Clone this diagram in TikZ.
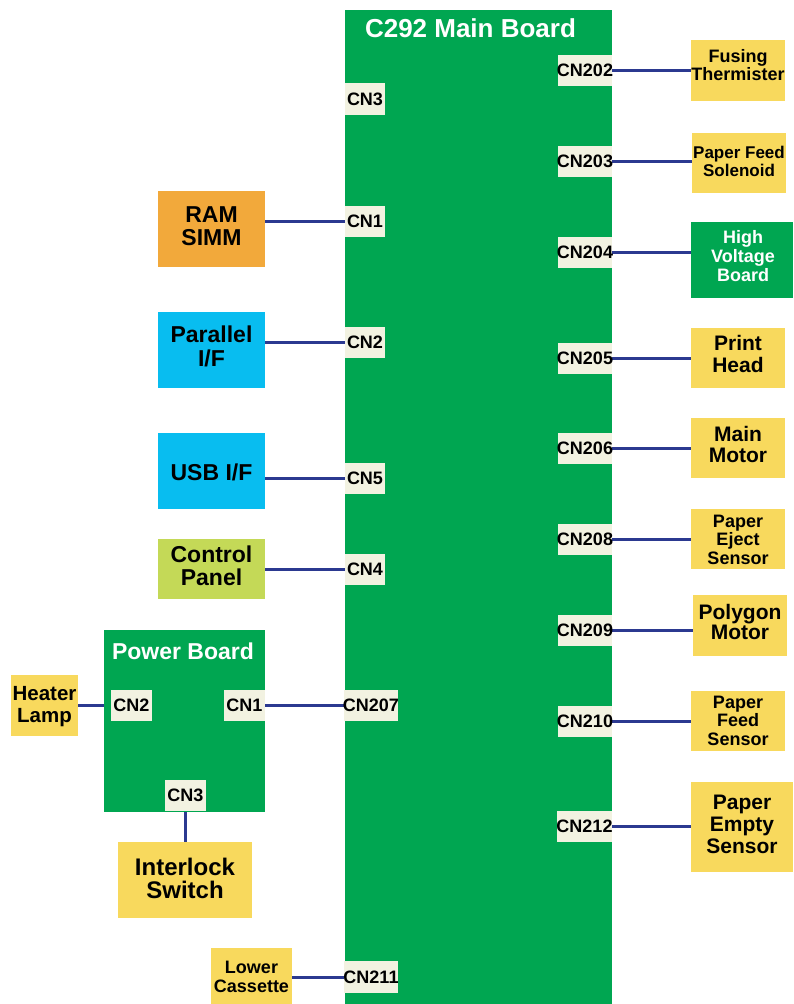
\documentclass[tikz,border=0pt]{standalone}
\usepackage{fontspec}
\setmainfont{Liberation Sans}
\usetikzlibrary{backgrounds}
\definecolor{pcbgreen}{HTML}{00A651}
\definecolor{cream}{HTML}{F2F2E1}
\definecolor{partyellow}{HTML}{F8D95D}
\definecolor{ramorange}{HTML}{F2A93B}
\definecolor{ifcyan}{HTML}{08BDF0}
\definecolor{panelgreen}{HTML}{C4D957}
\definecolor{wireblue}{HTML}{2B3990}
\newcommand\fsz[2]{\fontsize{#1}{#2}\selectfont}
\tikzset{
  comp/.style={rectangle, inner sep=0pt, outer sep=0pt},
  part/.style={comp, fill=partyellow},
  txt/.style={inner sep=0pt, outer sep=0pt, anchor=base, align=center},
  cnbox/.style={rectangle, fill=cream, inner sep=0pt, outer sep=0pt, minimum height=31pt,
    font=\bfseries\fsz{18}{18}},
  cnl/.style={cnbox, minimum width=40pt},
  cnr/.style={cnbox, minimum width=54pt},
  wire/.style={draw=wireblue, line width=3pt},
}
\begin{document}
\begin{tikzpicture}[x=1pt,y=-1pt]
\useasboundingbox (0,0) rectangle (793,1004);
% main board
\node[comp, fill=pcbgreen, minimum width=267pt, minimum height=994pt] (main) at (478.5,507) {};
\node[txt, text=white, font=\bfseries\fsz{26}{26}] (title) at (470.5,37) {C292 Main Board};
% left connectors on main board
\node[cnl, minimum height=32pt] (cn3) at (365,99) {\makebox[0pt]{CN3}};
\node[cnl] (cn1) at (365,221.5) {\makebox[0pt]{CN1}};
\node[cnl] (cn2) at (365,342.5) {\makebox[0pt]{CN2}};
\node[cnl] (cn5) at (365,478.5) {\makebox[0pt]{CN5}};
\node[cnl] (cn4) at (365,569) {\makebox[0pt]{CN4}};
\node[cnr] (cn207) at (371,705.5) {\makebox[0pt]{CN207}};
\node[cnr, minimum height=32pt] (cn211) at (371,977) {\makebox[0pt]{CN211}};
% right connectors on main board
\node[cnr] (cn202) at (585,70.5) {\makebox[0pt]{CN202}};
\node[cnr] (cn203) at (585,161.5) {\makebox[0pt]{CN203}};
\node[cnr] (cn204) at (585,252.5) {\makebox[0pt]{CN204}};
\node[cnr] (cn205) at (585,358) {\makebox[0pt]{CN205}};
\node[cnr] (cn206) at (585,448) {\makebox[0pt]{CN206}};
\node[cnr] (cn208) at (585,539) {\makebox[0pt]{CN208}};
\node[cnr] (cn209) at (585,630.5) {\makebox[0pt]{CN209}};
\node[cnr] (cn210) at (585,721.5) {\makebox[0pt]{CN210}};
\node[cnr, minimum width=55pt] (cn212) at (584.5,826.5) {\makebox[0pt]{CN212}};
% left components
\node[comp, fill=ramorange, minimum width=107pt, minimum height=76pt] (ram) at (211.5,229) {};
\node[txt, font=\bfseries\fsz{23}{23}] (ramtxt) at (211.5,245) {RAM\\SIMM};
\node[comp, fill=ifcyan, minimum width=107pt, minimum height=76pt] (par) at (211.5,350) {};
\node[txt, font=\bfseries\fsz{23}{24}] (partxt) at (211.5,366) {Parallel\\I/F};
\node[comp, fill=ifcyan, minimum width=107pt, minimum height=76pt] (usb) at (211.5,471) {};
\node[txt, font=\bfseries\fsz{23}{23}] (usbtxt) at (211.5,480) {USB I/F};
\node[comp, fill=panelgreen, minimum width=107pt, minimum height=60pt] (panel) at (211.5,569) {};
\node[txt, font=\bfseries\fsz{23}{23}] (paneltxt) at (211.5,585) {Control\\Panel};
% power board
\node[comp, fill=pcbgreen, minimum width=161pt, minimum height=182pt] (power) at (184.5,721) {};
\node[txt, text=white, font=\bfseries\fsz{23}{23}] (ptitle) at (183,659) {Power Board};
\node[cnbox, minimum width=41pt] (pcn2) at (131.5,705.5) {\makebox[0pt]{CN2}};
\node[cnbox, minimum width=41pt] (pcn1) at (244.5,705.5) {\makebox[0pt]{CN1}};
\node[cnbox, minimum width=41pt] (pcn3) at (185.5,795.5) {\makebox[0pt]{CN3}};
\node[part, minimum width=67pt, minimum height=61pt] (heater) at (44.5,705.5) {};
\node[txt, font=\bfseries\fsz{20.5}{22}] (heatertxt) at (44.5,722) {Heater\\Lamp};
\node[part, minimum width=134pt, minimum height=76pt] (interlock) at (185,880) {};
\node[txt, font=\bfseries\fsz{24}{23}] (interlocktxt) at (185,898) {Interlock\\Switch};
\node[part, minimum width=81pt, minimum height=56pt] (cassette) at (251.5,976) {};
\node[txt, font=\bfseries\fsz{18}{19}] (cassettetxt) at (251.5,992) {Lower\\Cassette};
% right components
\node[part, minimum width=94pt, minimum height=61pt] (fusing) at (738,70.5) {};
\node[txt, font=\bfseries\fsz{18}{18}] (fusingtxt) at (738,80) {Fusing\\Thermister};
\node[part, minimum width=94pt, minimum height=60pt] (solenoid) at (739,163) {};
\node[txt, font=\bfseries\fsz{17}{18}] (solenoidtxt) at (739,176) {Paper Feed\\Solenoid};
\node[comp, fill=pcbgreen, minimum width=102pt, minimum height=76pt] (hv) at (742,260) {};
\node[txt, text=white, font=\bfseries\fsz{18}{19}] (hvtxt) at (743,281) {High\\Voltage\\Board};
\node[part, minimum width=94pt, minimum height=60pt] (head) at (738,358) {};
\node[txt, font=\bfseries\fsz{21}{22}] (headtxt) at (738,372) {Print\\Head};
\node[part, minimum width=94pt, minimum height=60pt] (mmotor) at (738,448) {};
\node[txt, font=\bfseries\fsz{21}{21}] (mmotortxt) at (738,462) {Main\\Motor};
\node[part, minimum width=94pt, minimum height=60pt] (eject) at (738,539) {};
\node[txt, font=\bfseries\fsz{18}{18.5}] (ejecttxt) at (738,564) {Paper\\Eject\\Sensor};
\node[part, minimum width=94pt, minimum height=61pt] (polygon) at (740,625.5) {};
\node[txt, font=\bfseries\fsz{21}{20}] (polygontxt) at (740,639) {Polygon\\Motor};
\node[part, minimum width=94pt, minimum height=60pt] (feedsens) at (738,721) {};
\node[txt, font=\bfseries\fsz{18}{18.5}] (feedsenstxt) at (738,745) {Paper\\Feed\\Sensor};
\node[part, minimum width=102pt, minimum height=90pt] (empty) at (742,827) {};
\node[txt, font=\bfseries\fsz{21}{22}] (emptytxt) at (742,853) {Paper\\Empty\\Sensor};
% wires
\begin{scope}[on background layer]
\draw[wire] (cn1.west) -- (cn1.west -| ram.east);
\draw[wire] (cn2.west) -- (cn2.west -| par.east);
\draw[wire] (cn5.west) -- (cn5.west -| usb.east);
\draw[wire] (cn4.west) -- (cn4.west -| panel.east);
\draw[wire] (cn207.west) -- (pcn1.east);
\draw[wire] (cn211.west) -- (cn211.west -| cassette.east);
\draw[wire] (pcn2.west) -- (heater.east);
\draw[wire] (pcn3.south) -- (pcn3.south |- interlock.north);
\draw[wire] (cn202.east) -- (cn202.east -| fusing.west);
\draw[wire] (cn203.east) -- (cn203.east -| solenoid.west);
\draw[wire] (cn204.east) -- (cn204.east -| hv.west);
\draw[wire] (cn205.east) -- (cn205.east -| head.west);
\draw[wire] (cn206.east) -- (cn206.east -| mmotor.west);
\draw[wire] (cn208.east) -- (cn208.east -| eject.west);
\draw[wire] (cn209.east) -- (cn209.east -| polygon.west);
\draw[wire] (cn210.east) -- (cn210.east -| feedsens.west);
\draw[wire] (cn212.east) -- (cn212.east -| empty.west);
\end{scope}
\end{tikzpicture}
\end{document}
